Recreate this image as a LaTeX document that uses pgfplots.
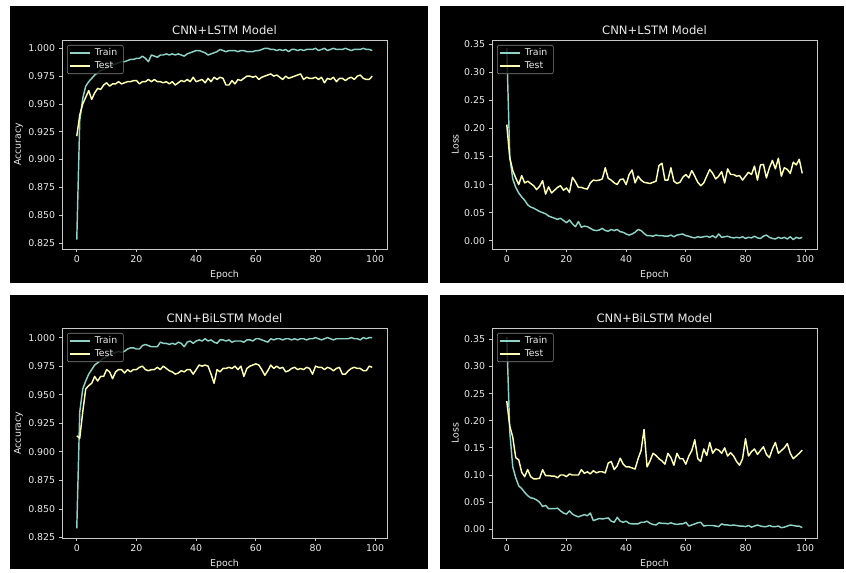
\documentclass[border=0pt]{standalone}
\usepackage{fontspec}
\setmainfont{DejaVu Sans}
\usepackage{pgfplots}
\usepackage{pgfplotstable}
\pgfplotsset{compat=1.18}
\definecolor{trainc}{HTML}{8DD3C7}
\definecolor{testc}{HTML}{FEFFB3}
\definecolor{spine}{HTML}{C8C8C8}

% CNN+LSTM accuracy
\pgfplotstableread{
e tr te
0 0.828 0.921
1 0.935 0.940
2 0.955 0.950
3 0.966 0.956
4 0.970 0.962
5 0.973 0.954
6 0.976 0.960
7 0.978 0.964
8 0.980 0.963
9 0.981 0.967
10 0.983 0.969
11 0.984 0.966
12 0.985 0.968
13 0.986 0.968
14 0.987 0.970
15 0.988 0.968
16 0.988 0.969
17 0.989 0.970
18 0.990 0.970
19 0.990 0.971
20 0.991 0.971
21 0.991 0.968
22 0.993 0.970
23 0.991 0.970
24 0.988 0.972
25 0.994 0.970
26 0.993 0.972
27 0.992 0.970
28 0.994 0.970
29 0.994 0.969
30 0.995 0.970
31 0.994 0.968
32 0.995 0.970
33 0.994 0.967
34 0.995 0.969
35 0.994 0.971
36 0.993 0.970
37 0.995 0.972
38 0.996 0.970
39 0.997 0.974
40 0.998 0.970
41 0.998 0.971
42 0.997 0.972
43 0.996 0.969
44 0.994 0.973
45 0.995 0.970
46 0.996 0.974
47 0.997 0.972
48 0.999 0.974
49 0.998 0.973
50 0.997 0.967
51 0.998 0.967
52 0.998 0.971
53 0.998 0.968
54 0.997 0.972
55 0.998 0.971
56 0.998 0.973
57 0.997 0.975
58 0.997 0.975
59 0.997 0.974
60 0.998 0.975
61 0.998 0.972
62 0.999 0.974
63 1.000 0.975
64 1.000 0.976
65 0.999 0.977
66 0.999 0.975
67 0.998 0.976
68 0.999 0.974
69 0.998 0.972
70 0.999 0.975
71 0.997 0.973
72 0.999 0.974
73 0.999 0.975
74 0.998 0.976
75 0.999 0.977
76 0.998 0.972
77 0.999 0.974
78 0.999 0.973
79 0.999 0.973
80 1.000 0.974
81 0.998 0.972
82 0.999 0.974
83 1.000 0.969
84 0.998 0.973
85 0.999 0.972
86 1.000 0.974
87 0.999 0.970
88 0.999 0.973
89 0.999 0.973
90 1.000 0.971
91 0.999 0.973
92 0.998 0.974
93 0.999 0.972
94 0.999 0.975
95 0.999 0.976
96 1.000 0.973
97 0.999 0.972
98 0.999 0.972
99 0.998 0.975
}\accA

% CNN+LSTM loss
\pgfplotstableread{
e tr te
0 0.343 0.207
1 0.150 0.148
2 0.110 0.125
3 0.095 0.112
4 0.085 0.100
5 0.078 0.116
6 0.072 0.103
7 0.064 0.106
8 0.060 0.102
9 0.058 0.098
10 0.055 0.091
11 0.052 0.097
12 0.050 0.107
13 0.048 0.083
14 0.044 0.096
15 0.042 0.085
16 0.040 0.090
17 0.038 0.095
18 0.040 0.098
19 0.036 0.090
20 0.032 0.094
21 0.037 0.086
22 0.030 0.113
23 0.025 0.105
24 0.034 0.095
25 0.024 0.095
26 0.026 0.093
27 0.025 0.092
28 0.022 0.103
29 0.019 0.108
30 0.018 0.107
31 0.019 0.108
32 0.022 0.110
33 0.018 0.130
34 0.017 0.111
35 0.020 0.108
36 0.018 0.103
37 0.020 0.100
38 0.016 0.109
39 0.015 0.110
40 0.012 0.100
41 0.010 0.118
42 0.012 0.126
43 0.015 0.103
44 0.020 0.115
45 0.018 0.108
46 0.013 0.104
47 0.009 0.103
48 0.009 0.102
49 0.008 0.104
50 0.010 0.106
51 0.009 0.134
52 0.009 0.138
53 0.008 0.108
54 0.008 0.108
55 0.010 0.130
56 0.007 0.106
57 0.010 0.102
58 0.011 0.104
59 0.012 0.113
60 0.009 0.118
61 0.008 0.112
62 0.006 0.125
63 0.005 0.115
64 0.007 0.104
65 0.006 0.098
66 0.007 0.103
67 0.008 0.115
68 0.006 0.127
69 0.009 0.120
70 0.005 0.110
71 0.012 0.115
72 0.006 0.123
73 0.007 0.103
74 0.008 0.128
75 0.006 0.118
76 0.005 0.118
77 0.006 0.115
78 0.005 0.116
79 0.007 0.108
80 0.004 0.115
81 0.006 0.122
82 0.005 0.118
83 0.008 0.133
84 0.005 0.108
85 0.004 0.135
86 0.008 0.136
87 0.010 0.112
88 0.006 0.130
89 0.004 0.143
90 0.003 0.128
91 0.006 0.147
92 0.004 0.115
93 0.006 0.130
94 0.003 0.127
95 0.007 0.120
96 0.002 0.140
97 0.006 0.135
98 0.004 0.145
99 0.006 0.120
}\lossA

% CNN+BiLSTM accuracy
\pgfplotstableread{
e tr te
0 0.833 0.914
1 0.935 0.912
2 0.955 0.935
3 0.962 0.955
4 0.968 0.958
5 0.972 0.960
6 0.976 0.966
7 0.978 0.962
8 0.980 0.966
9 0.982 0.966
10 0.983 0.972
11 0.985 0.970
12 0.986 0.964
13 0.987 0.970
14 0.988 0.972
15 0.987 0.972
16 0.988 0.969
17 0.990 0.972
18 0.991 0.970
19 0.991 0.972
20 0.990 0.972
21 0.990 0.974
22 0.993 0.975
23 0.994 0.972
24 0.993 0.971
25 0.992 0.972
26 0.992 0.972
27 0.992 0.974
28 0.996 0.972
29 0.995 0.975
30 0.995 0.973
31 0.994 0.971
32 0.995 0.970
33 0.994 0.968
34 0.996 0.969
35 0.995 0.971
36 0.992 0.970
37 0.996 0.972
38 0.997 0.972
39 0.995 0.968
40 0.997 0.972
41 0.998 0.976
42 0.997 0.975
43 0.999 0.976
44 0.997 0.975
45 0.998 0.968
46 0.996 0.960
47 0.995 0.972
48 0.998 0.970
49 0.998 0.973
50 0.997 0.973
51 0.998 0.974
52 0.996 0.973
53 0.997 0.975
54 0.997 0.972
55 0.997 0.975
56 0.996 0.966
57 0.998 0.973
58 0.998 0.975
59 0.997 0.976
60 0.999 0.977
61 0.999 0.976
62 0.998 0.972
63 0.997 0.967
64 0.996 0.971
65 0.999 0.976
66 0.998 0.973
67 0.999 0.975
68 0.999 0.973
69 0.998 0.974
70 0.999 0.970
71 0.999 0.971
72 0.998 0.973
73 0.999 0.974
74 0.998 0.972
75 0.999 0.973
76 0.999 0.972
77 0.998 0.974
78 0.999 0.973
79 0.999 0.968
80 1.000 0.975
81 0.999 0.974
82 0.998 0.974
83 0.999 0.972
84 1.000 0.974
85 0.999 0.973
86 0.998 0.971
87 0.999 0.973
88 0.999 0.974
89 0.999 0.968
90 0.999 0.968
91 0.999 0.971
92 1.000 0.973
93 0.999 0.974
94 0.999 0.973
95 0.998 0.973
96 1.000 0.971
97 0.999 0.971
98 1.000 0.975
99 1.000 0.974
}\accB

% CNN+BiLSTM loss
\pgfplotstableread{
e tr te
0 0.354 0.236
1 0.180 0.190
2 0.115 0.170
3 0.095 0.132
4 0.080 0.128
5 0.075 0.105
6 0.068 0.097
7 0.062 0.110
8 0.058 0.097
9 0.057 0.093
10 0.054 0.093
11 0.050 0.094
12 0.042 0.110
13 0.044 0.099
14 0.038 0.099
15 0.038 0.098
16 0.038 0.098
17 0.039 0.095
18 0.034 0.100
19 0.030 0.100
20 0.028 0.097
21 0.034 0.102
22 0.028 0.100
23 0.025 0.100
24 0.023 0.100
25 0.025 0.110
26 0.027 0.103
27 0.025 0.106
28 0.030 0.102
29 0.016 0.108
30 0.018 0.104
31 0.020 0.106
32 0.019 0.106
33 0.020 0.104
34 0.021 0.122
35 0.015 0.125
36 0.013 0.110
37 0.022 0.117
38 0.015 0.131
39 0.013 0.120
40 0.015 0.115
41 0.011 0.115
42 0.010 0.113
43 0.010 0.111
44 0.010 0.130
45 0.013 0.145
46 0.013 0.184
47 0.015 0.115
48 0.011 0.126
49 0.009 0.140
50 0.008 0.136
51 0.012 0.130
52 0.011 0.126
53 0.011 0.120
54 0.010 0.140
55 0.012 0.132
56 0.010 0.118
57 0.009 0.140
58 0.010 0.130
59 0.010 0.130
60 0.013 0.120
61 0.006 0.135
62 0.008 0.145
63 0.010 0.165
64 0.012 0.130
65 0.013 0.125
66 0.006 0.148
67 0.007 0.136
68 0.007 0.160
69 0.007 0.140
70 0.006 0.148
71 0.005 0.146
72 0.010 0.140
73 0.008 0.150
74 0.008 0.135
75 0.007 0.141
76 0.008 0.135
77 0.007 0.125
78 0.006 0.118
79 0.006 0.130
80 0.005 0.167
81 0.007 0.135
82 0.004 0.143
83 0.006 0.148
84 0.008 0.138
85 0.006 0.145
86 0.005 0.152
87 0.005 0.138
88 0.007 0.132
89 0.005 0.148
90 0.005 0.160
91 0.006 0.140
92 0.003 0.145
93 0.004 0.150
94 0.006 0.158
95 0.008 0.140
96 0.007 0.130
97 0.006 0.135
98 0.006 0.140
99 0.003 0.146
}\lossB

\pgfplotsset{
  mpl/.style={
    scale only axis,
    anchor=south west,
    width=325pt,
    axis background/.style={fill=black},
    axis line style={spine, line width=0.75pt},
    tick style={spine, line width=0.75pt},
    tick align=outside,
    tick pos=left,
    major tick length=3.3pt,
    xmin=-4.95, xmax=103.95,
    xtick={0,20,40,60,80,100},
    font=\fontsize{9.4}{11}\selectfont,
    every tick label/.append style={text=white!92!black},
    /pgf/number format/assume math mode=true,
    label style={text=white!92!black},
    xlabel={Epoch},
    xlabel style={yshift=-1pt},
    ylabel style={yshift=-1.5pt},
    title style={text=white!92!black, font=\fontsize{11.6}{13}\selectfont, yshift=-4pt},
    legend style={at={(0,1)}, anchor=north west, xshift=5pt, yshift=-5pt,
      draw=gray, fill=black, fill opacity=0.8, text opacity=1, text=white!92!black,
      rounded corners=2pt, line width=0.6pt, font=\fontsize{9.4}{11}\selectfont,
      inner xsep=2pt, inner ysep=2.5pt, row sep=2.5pt,
      nodes={inner xsep=4pt, inner ysep=1pt}},
    legend cell align=left,
    legend image code/.code={\draw[#1] (0pt,0pt) -- (20pt,0pt);},
    every axis plot/.append style={line width=1.45pt, line join=round},
  },
  accax/.style={
    ylabel={Accuracy},
    ytick={0.825,0.85,0.875,0.9,0.925,0.95,0.975,1.0},
    yticklabel style={/pgf/number format/.cd, fixed, fixed zerofill, precision=3},
  },
  lossax/.style={
    ylabel={Loss},
    ytick={0,0.05,0.1,0.15,0.2,0.25,0.3,0.35},
    yticklabel style={/pgf/number format/.cd, fixed, fixed zerofill, precision=2},
  },
}

\begin{document}
\begin{tikzpicture}[x=1pt,y=1pt]
\fill[white] (0,0) rectangle (846,569);
\fill[black] (10,286) rectangle (428,563);
\fill[black] (440,286) rectangle (844,563);
\fill[black] (10,0) rectangle (428,274);
\fill[black] (440,0) rectangle (844,274);

\begin{axis}[mpl, accax, at={(62pt,320pt)}, height=209pt,
  ymin=0.8195, ymax=1.0075, title={CNN+LSTM Model}]
\addplot[trainc] table[x=e,y=tr] {\accA};
\addplot[testc] table[x=e,y=te] {\accA};
\legend{Train,Test}
\end{axis}

\begin{axis}[mpl, lossax, at={(492pt,320pt)}, height=209pt,
  ymin=-0.0148, ymax=0.3577, title={CNN+LSTM Model}]
\addplot[trainc] table[x=e,y=tr] {\lossA};
\addplot[testc] table[x=e,y=te] {\lossA};
\legend{Train,Test}
\end{axis}

\begin{axis}[mpl, accax, at={(62pt,31pt)}, height=210pt,
  ymin=0.8246, ymax=1.0084, title={CNN+BiLSTM Model}]
\addplot[trainc] table[x=e,y=tr] {\accB};
\addplot[testc] table[x=e,y=te] {\accB};
\legend{Train,Test}
\end{axis}

\begin{axis}[mpl, lossax, at={(492pt,31pt)}, height=210pt,
  ymin=-0.016, ymax=0.3708, title={CNN+BiLSTM Model}]
\addplot[trainc] table[x=e,y=tr] {\lossB};
\addplot[testc] table[x=e,y=te] {\lossB};
\legend{Train,Test}
\end{axis}
\end{tikzpicture}
\end{document}
